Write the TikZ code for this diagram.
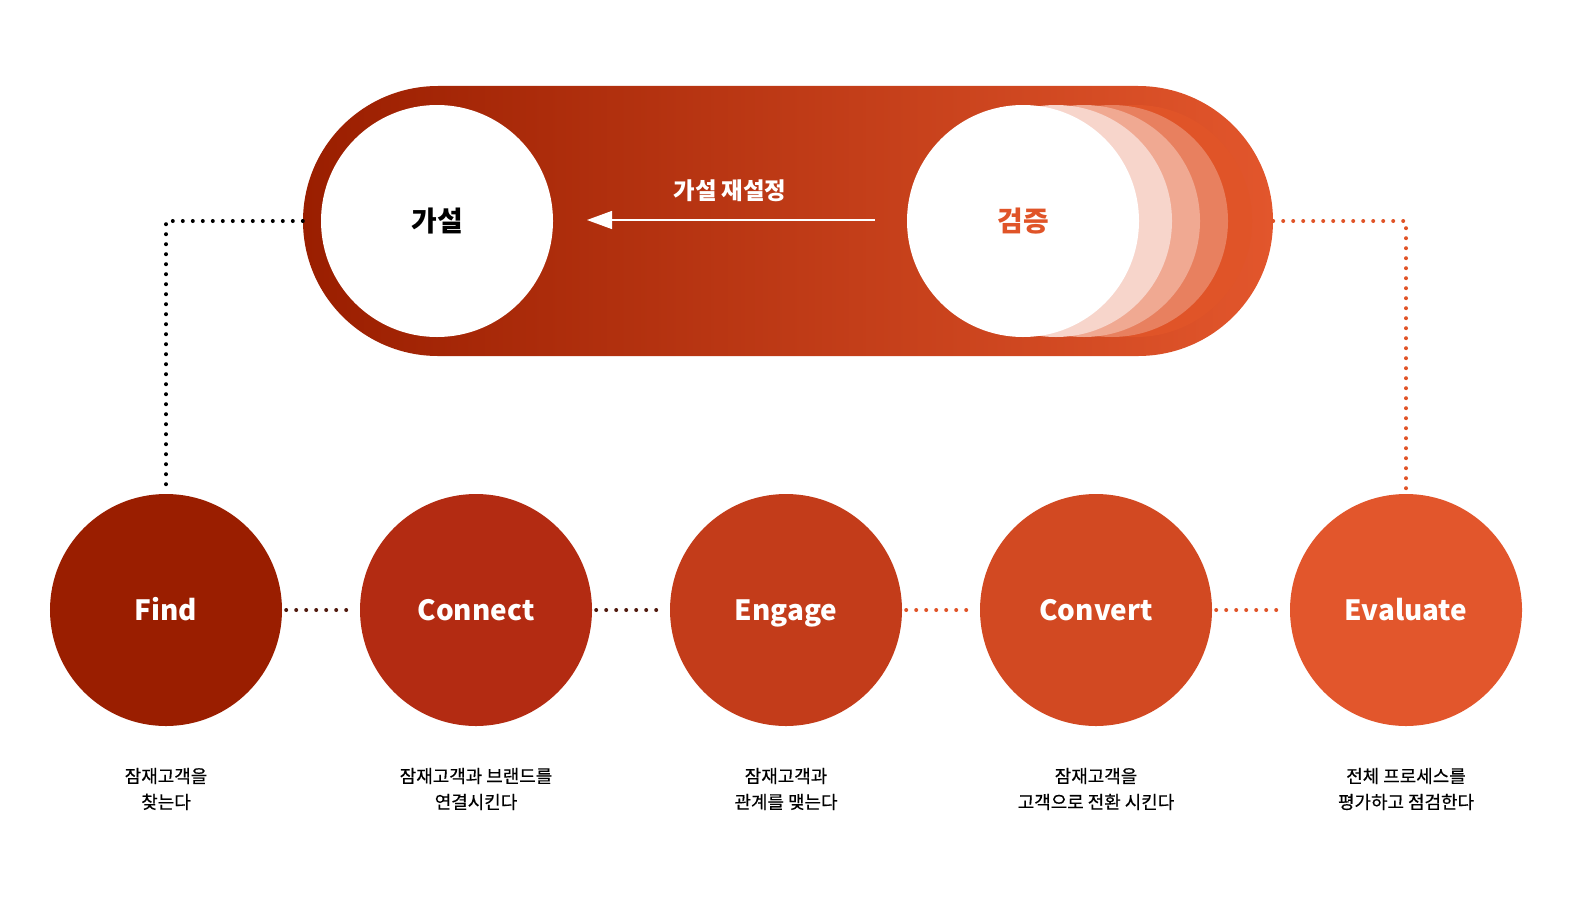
\documentclass[tikz,border=0pt]{standalone}
\usepackage{fontspec}
\setmainfont{Noto Sans CJK KR}
\newfontfamily\captionfont{Noto Sans CJK KR}[FakeBold=0.4]
\usepackage{xcolor}
\usetikzlibrary{positioning}
\usetikzlibrary{shapes.misc}
\usetikzlibrary{arrows.meta}
\definecolor{find-red}{RGB}{154, 30, 0}
\definecolor{connect-red}{RGB}{179, 43, 18}
\definecolor{engage-red}{RGB}{195, 60, 26}
\definecolor{convert-red}{RGB}{210, 73, 34}
\definecolor{evaluate-red}{RGB}{226, 86, 44}
\definecolor{layer-one}{RGB}{224, 84, 40}
\definecolor{layer-two}{RGB}{232, 128, 95}
\definecolor{layer-three}{RGB}{240, 169, 146}
\definecolor{layer-four}{RGB}{247, 213, 203}
\definecolor{dot-brown}{RGB}{80, 26, 14}

\begin{document}
\begin{tikzpicture}[x=1bp, y=-1bp,
    stagecirc/.style={circle, minimum size=232bp, inner sep=0pt, text=white,
        text height=20bp, text depth=0bp,
        font=\bfseries\fontsize{28}{32}\selectfont},
    whitecirc/.style={circle, minimum size=232bp, inner sep=0pt, fill=white,
        font=\bfseries\fontsize{28}{32}\selectfont},
    layercirc/.style={circle, minimum size=232bp, inner sep=0pt},
    stagetext/.style={align=center, font=\captionfont\fontsize{18}{26}\selectfont},
    dotline/.style={line width=4bp, line cap=round, dash pattern=on 0pt off 10bp}]
\useasboundingbox (0,0) rectangle (1574,901);

% top loop
\node[rounded rectangle, minimum width=970bp, minimum height=270bp, inner sep=0pt,
    left color=find-red, right color=evaluate-red] (loop) at (788,221) {};
\node[layercirc, fill=layer-one] (layerA) at (1136,221) {};
\node[layercirc, fill=layer-two] (layerB) at (1112,221) {};
\node[layercirc, fill=layer-three] (layerC) at (1084,221) {};
\node[layercirc, fill=layer-four] (layerD) at (1056,221) {};
\node[whitecirc, text=layer-one] (test) at (1023,221) {검증};
\node[whitecirc, text=black] (hypo) at (437,221) {가설};
\coordinate (resetS) at (875,220);
\coordinate (resetE) at (587,220);
\draw[white, line width=1.2bp, -{Triangle[length=25bp, width=18bp]}] (resetS) -- (resetE);
\node[text=white, font=\bfseries\fontsize{23.5}{26}\selectfont] (reset) at (730,191) {가설 재설정};

% stages
\node[stagecirc, fill=find-red] (find) at (166,610) {Find};
\node[stagecirc, fill=connect-red] (connect) at (476,610) {Connect};
\node[stagecirc, fill=engage-red] (engage) at (786,610) {Engage};
\node[stagecirc, fill=convert-red] (convert) at (1096,610) {Convert};
\node[stagecirc, fill=evaluate-red] (evaluate) at (1406,610) {Evaluate};

\node[stagetext] (findtxt) at (166,789) {잠재고객을\\찾는다};
\node[stagetext] (connecttxt) at (476,789) {잠재고객과 브랜드를\\연결시킨다};
\node[stagetext] (engagetxt) at (786,789) {잠재고객과\\관계를 맺는다};
\node[stagetext] (converttxt) at (1096,789) {잠재고객을\\고객으로 전환 시킨다};
\node[stagetext] (evaluatetxt) at (1406,789) {전체 프로세스를\\평가하고 점검한다};

% dotted links
\draw[dotline, black] (loop.west) -| (find.north);
\draw[dotline, layer-one] (loop.east) -| (evaluate.north);
\draw[dotline, dot-brown, shorten <=4bp, shorten >=4bp] (find.east) -- (connect.west);
\draw[dotline, dot-brown, shorten <=4bp, shorten >=4bp] (connect.east) -- (engage.west);
\draw[dotline, layer-one, shorten <=4bp, shorten >=4bp] (engage.east) -- (convert.west);
\draw[dotline, layer-one, shorten <=4bp, shorten >=4bp] (convert.east) -- (evaluate.west);
\end{tikzpicture}
\end{document}
